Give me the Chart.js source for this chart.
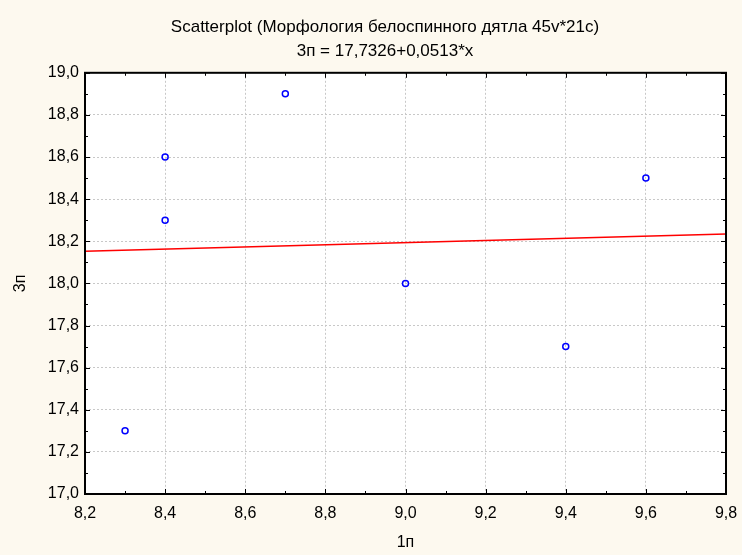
<!DOCTYPE html>
<html>
<head>
<meta charset="utf-8">
<script src="https://cdn.jsdelivr.net/npm/chart.js@4.4.1/dist/chart.umd.min.js"></script>
<style>
	html, body { margin: 0; padding: 0; background: #fdf9ef; }
	#wrap { width: 742px; height: 555px; }
</style>
</head>
<body>
<div id="wrap"><canvas id="chart" width="742" height="555"></canvas></div>
<script>
// data
const xValues = [8.3, 8.4, 8.4, 8.7, 9.0, 9.4, 9.6];
const yValues = [17.3, 18.6, 18.3, 18.9, 18.0, 17.7, 18.5];

// regression line end points (3п = 17,7326+0,0513*x)
const fitX = [8.2, 9.8];
const fitY = [18.153, 18.235];

const xTicks = [8.2, 8.4, 8.6, 8.8, 9.0, 9.2, 9.4, 9.6, 9.8];
const yTicks = [17.0, 17.2, 17.4, 17.6, 17.8, 18.0, 18.2, 18.4, 18.6, 18.8, 19.0];

const titleText = "Scatterplot (Морфология белоспинного дятла 45v*21c)";
const subtitleText = "3п = 17,7326+0,0513*x";
const xTitle = "1п";
const yTitle = "3п";

const fmt = (v) => v.toFixed(1).replace(".", ",");
const family = "Arial, 'Liberation Sans', sans-serif";
const tickFont = { family: family, size: 16 };
const headFont = { family: family, size: 17 };

// white plot area, black frame and inward ticks
const frame = {
	id: "frame",
	beforeDraw(chart) {
		const { ctx, chartArea: a } = chart;
		ctx.save();
		ctx.fillStyle = "#ffffff";
		ctx.fillRect(a.left, a.top, a.right - a.left, a.bottom - a.top);
		ctx.restore();
	},
	afterDatasetsDraw(chart) {
		const { ctx, chartArea: a, scales } = chart;
		ctx.save();
		ctx.strokeStyle = "#000";
		ctx.lineWidth = 1;
		const x = scales.x, y = scales.y;
		for (let i = 0; i < xTicks.length; i++) {
			const px = Math.round(x.getPixelForValue(xTicks[i])) + 0.5;
			ctx.beginPath();
			ctx.moveTo(px, a.bottom); ctx.lineTo(px, a.bottom - 5);
			ctx.moveTo(px, a.top); ctx.lineTo(px, a.top + 5);
			ctx.stroke();
			if (i < xTicks.length - 1) {
				const mx = Math.round(x.getPixelForValue((xTicks[i] + xTicks[i + 1]) / 2)) + 0.5;
				ctx.beginPath();
				ctx.moveTo(mx, a.bottom); ctx.lineTo(mx, a.bottom - 3);
				ctx.moveTo(mx, a.top); ctx.lineTo(mx, a.top + 3);
				ctx.stroke();
			}
		}
		for (let i = 0; i < yTicks.length; i++) {
			const py = Math.round(y.getPixelForValue(yTicks[i])) + 0.5;
			ctx.beginPath();
			ctx.moveTo(a.left, py); ctx.lineTo(a.left + 5, py);
			ctx.moveTo(a.right, py); ctx.lineTo(a.right - 5, py);
			ctx.stroke();
			if (i < yTicks.length - 1) {
				const my = Math.round(y.getPixelForValue((yTicks[i] + yTicks[i + 1]) / 2)) + 0.5;
				ctx.beginPath();
				ctx.moveTo(a.left, my); ctx.lineTo(a.left + 3, my);
				ctx.moveTo(a.right, my); ctx.lineTo(a.right - 3, my);
				ctx.stroke();
			}
		}
		ctx.lineWidth = 2;
		ctx.strokeRect(a.left, a.top, a.right - a.left, a.bottom - a.top);
		ctx.restore();
	},
};

const points = xValues.map((x, i) => ({ x: x, y: yValues[i] }));
const fitLine = fitX.map((x, i) => ({ x: x, y: fitY[i] }));

new Chart(document.getElementById("chart"), {
	type: "scatter",
	data: {
		datasets: [
			{
				data: points,
				pointStyle: "circle",
				pointRadius: 3,
				pointHoverRadius: 3,
				borderColor: "#0000ff",
				backgroundColor: "rgba(0,0,0,0)",
				borderWidth: 1.5,
				clip: false,
			},
			{
				type: "line",
				data: fitLine,
				borderColor: "#ff0000",
				borderWidth: 1.5,
				pointRadius: 0,
				fill: false,
			},
		],
	},
	options: {
		responsive: false,
		animation: false,
		// left padding shifts the centred titles to where the reference has them
		layout: { padding: { left: 44, right: 16, top: 0, bottom: 0 } },
		plugins: {
			legend: { display: false },
			tooltip: { enabled: false },
			title: {
				display: true,
				text: titleText,
				color: "#000",
				font: { ...headFont, weight: "normal" },
				padding: { top: 17, bottom: 2 },
			},
			subtitle: {
				display: true,
				text: subtitleText,
				color: "#000",
				font: headFont,
				padding: { top: 2, bottom: 11 },
			},
		},
		scales: {
			x: {
				type: "linear",
				min: 8.2,
				max: 9.8,
				afterBuildTicks: (s) => { s.ticks = xTicks.map((v) => ({ value: v })); },
				afterFit: (s) => { s.height = 61; s.paddingLeft = 0; s.paddingRight = 0; },
				ticks: { color: "#000", font: tickFont, padding: 10, callback: (v) => fmt(v) },
				grid: { color: "#c8c8c8", drawTicks: false, tickLength: 0 },
				border: { display: false, dash: [2, 2] },
				title: { display: true, text: xTitle, color: "#000", font: tickFont, padding: { top: 4, bottom: 3 } },
			},
			y: {
				type: "linear",
				min: 17.0,
				max: 19.0,
				afterBuildTicks: (s) => { s.ticks = yTicks.map((v) => ({ value: v })); },
				afterFit: (s) => { s.width = 41; },
				ticks: { color: "#000", font: tickFont, padding: 6, callback: (v) => fmt(v) },
				grid: { color: "#c8c8c8", drawTicks: false, tickLength: 0 },
				border: { display: false, dash: [2, 2] },
				title: { display: true, text: yTitle, color: "#000", font: tickFont, padding: { top: -33, bottom: 4 } },
			},
		},
	},
	plugins: [frame],
});
</script>
</body>
</html>
